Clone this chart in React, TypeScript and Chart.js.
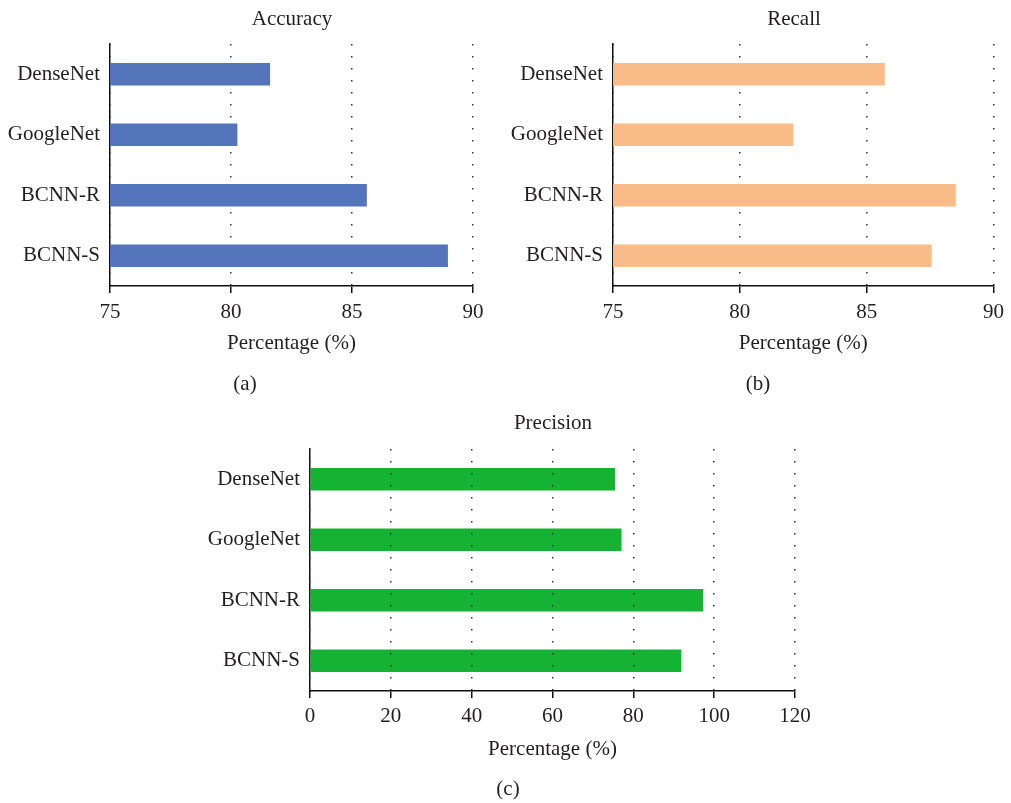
import React, { useEffect, useRef } from "react";
import { Chart, registerables } from "chart.js";

Chart.register(...registerables);

const categories = ["DenseNet", "GoogleNet", "BCNN-R", "BCNN-S"];
const accuracyValues = [81.6, 80.25, 85.6, 88.95];
const recallValues = [85.7, 82.1, 88.5, 87.55];
const precisionValues = [75.4, 77.0, 97.2, 91.8];

const accuracyTicks = [75, 80, 85, 90];
const recallTicks = [75, 80, 85, 90];
const precisionTicks = [0, 20, 40, 60, 80, 100, 120];

const FONT = '"Liberation Serif", "Times New Roman", serif';
const TEXT = "#231f20";
const FS = 21;

const captionPlugin = {
  id: "captions",
  afterDraw(chart: any, _args: any, opts: any) {
    const ctx = chart.ctx;
    ctx.save();
    ctx.fillStyle = TEXT;
    ctx.font = `${FS}px ${FONT}`;
    ctx.textAlign = "center";
    ctx.textBaseline = "middle";
    if (opts.title) ctx.fillText(opts.title, opts.titleX, opts.titleY);
    if (opts.caption) ctx.fillText(opts.caption, opts.capX, opts.capY);
    ctx.restore();
  },
};

type Spec = {
  left: number;
  top: number;
  width: number;
  height: number;
  areaLeft: number;
  areaRight: number;
  areaTop: number;
  areaBottom: number;
  values: number[];
  ticks: number[];
  color: string;
  title: string;
  titleX: number;
  titleY: number;
  caption: string;
  capX: number;
  capY: number;
  gridOnTop: boolean;
  tickPad: number;
  titlePadBottom: number;
};

function BarPanel({ spec }: { spec: Spec }) {
  const ref = useRef<HTMLCanvasElement>(null);
  useEffect(() => {
    if (!ref.current) return;
    const tmin = spec.ticks[0];
    const tmax = spec.ticks[spec.ticks.length - 1];
    const step = spec.ticks[1] - spec.ticks[0];
    const chart = new Chart(ref.current, {
      type: "bar",
      data: {
        labels: categories,
        datasets: [
          {
            data: spec.values,
            backgroundColor: spec.color,
            borderWidth: 0,
            barThickness: 22,
          },
        ],
      },
      plugins: [captionPlugin],
      options: {
        indexAxis: "y",
        animation: false,
        responsive: false,
        maintainAspectRatio: false,
        layout: {
          padding: {
            top: spec.areaTop,
            left: 0,
            right: spec.width - spec.areaRight,
            bottom: 0,
          },
        },
        plugins: {
          legend: { display: false },
          tooltip: { enabled: false },
          title: { display: false },
          captions: {
            title: spec.title,
            titleX: spec.titleX,
            titleY: spec.titleY,
            caption: spec.caption,
            capX: spec.capX,
            capY: spec.capY,
          },
        } as any,
        scales: {
          x: {
            type: "linear",
            position: "bottom",
            min: tmin,
            max: tmax,
            afterFit: (scale: any) => {
              scale.height = spec.height - spec.areaBottom;
            },
            afterBuildTicks: (scale: any) => {
              scale.ticks = spec.ticks.map((v) => ({ value: v }));
            },
            ticks: {
              stepSize: step,
              color: TEXT,
              font: { family: FONT, size: FS },
              padding: spec.tickPad,
              maxRotation: 0,
            },
            grid: {
              display: true,
              drawOnChartArea: true,
              drawTicks: true,
              tickLength: 7,
              color: "#333333",
              lineWidth: 1.5,
              tickColor: "#111111",
              tickWidth: 1.5,
              tickBorderDash: [],
              z: spec.gridOnTop ? 1 : -1,
            } as any,
            border: {
              display: true,
              color: "#111111",
              width: 1.5,
              dash: [1.5, 10.5],
              z: spec.gridOnTop ? 2 : 0,
            },
            title: {
              display: true,
              text: "Percentage (%)",
              color: TEXT,
              font: { family: FONT, size: FS },
              padding: { top: 0, bottom: spec.titlePadBottom },
            },
          },
          y: {
            type: "category",
            position: "left",
            afterFit: (scale: any) => {
              scale.width = spec.areaLeft;
            },
            ticks: {
              color: TEXT,
              font: { family: FONT, size: FS },
              padding: 10,
            },
            grid: { display: false, drawTicks: false },
            border: { display: true, color: "#111111", width: 1.5 },
          },
        },
      } as any,
    });
    return () => chart.destroy();
  }, [spec]);
  return (
    <div
      style={{
        position: "absolute",
        left: spec.left,
        top: spec.top,
        width: spec.width,
        height: spec.height,
      }}
    >
      <canvas
        ref={ref}
        width={spec.width}
        height={spec.height}
        style={{ width: spec.width, height: spec.height, display: "block" }}
      />
    </div>
  );
}

const specA: Spec = {
  left: 0,
  top: 0,
  width: 500,
  height: 400,
  areaLeft: 110,
  areaRight: 473,
  areaTop: 44,
  areaBottom: 286,
  values: accuracyValues,
  ticks: accuracyTicks,
  color: "#5474bc",
  title: "Accuracy",
  titleX: 292,
  titleY: 19,
  caption: "(a)",
  capX: 245,
  capY: 384,
  gridOnTop: false,
  tickPad: 7,
  titlePadBottom: 44,
};

const specB: Spec = {
  left: 500,
  top: 0,
  width: 511,
  height: 400,
  areaLeft: 113,
  areaRight: 498,
  areaTop: 44,
  areaBottom: 286,
  values: recallValues,
  ticks: recallTicks,
  color: "#f9bc89",
  title: "Recall",
  titleX: 294,
  titleY: 19,
  caption: "(b)",
  capX: 258,
  capY: 384,
  gridOnTop: false,
  tickPad: 7,
  titlePadBottom: 44,
};

const specC: Spec = {
  left: 0,
  top: 400,
  width: 1011,
  height: 403,
  areaLeft: 310,
  areaRight: 795,
  areaTop: 49,
  areaBottom: 291,
  values: precisionValues,
  ticks: precisionTicks,
  color: "#14b334",
  title: "Precision",
  titleX: 553,
  titleY: 23,
  caption: "(c)",
  capX: 508,
  capY: 389,
  gridOnTop: true,
  tickPad: 6,
  titlePadBottom: 41,
};

export default function App() {
  return (
    <div
      style={{
        position: "absolute",
        left: 0,
        top: 0,
        width: 1011,
        height: 803,
        background: "#ffffff",
        overflow: "hidden",
      }}
    >
      <BarPanel spec={specA} />
      <BarPanel spec={specB} />
      <BarPanel spec={specC} />
    </div>
  );
}
